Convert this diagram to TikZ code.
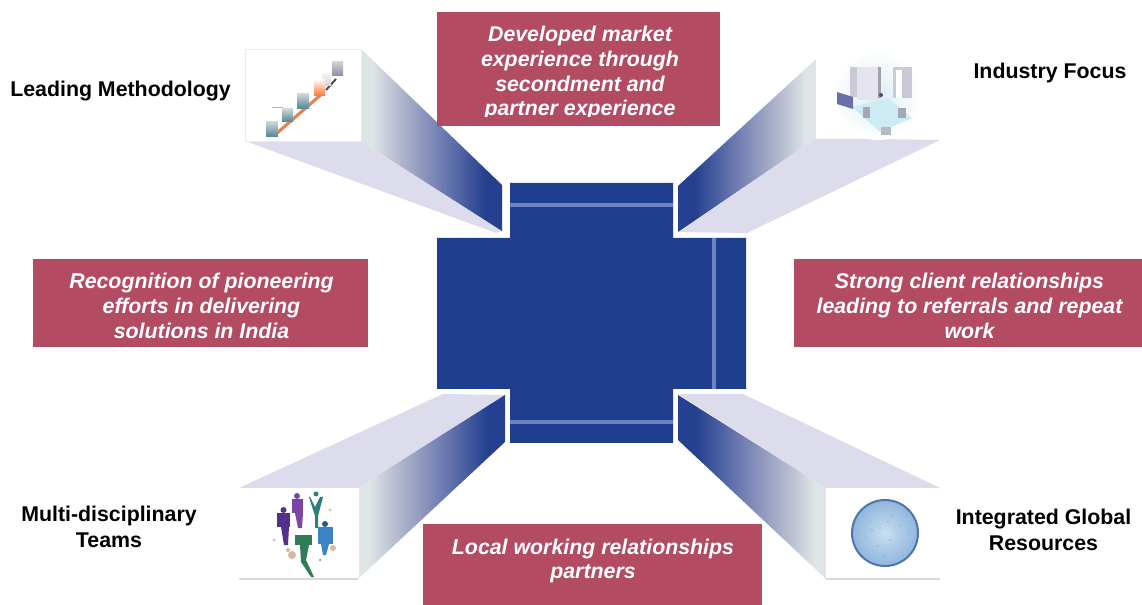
\documentclass[tikz,border=0pt]{standalone}
\usepackage{fontspec}
\setmainfont{Liberation Sans}
\definecolor{crossblue}{HTML}{1F3E8E}
\definecolor{crossline}{HTML}{6E84C2}
\definecolor{wine}{HTML}{B34B62}
\definecolor{beamtop}{HTML}{DCDCEC}
\definecolor{stopA}{HTML}{DDE5E7}
\definecolor{stopB}{HTML}{B9BFD0}
\definecolor{stopC}{HTML}{8D96BD}
\definecolor{stopD}{HTML}{5A6CA8}
\definecolor{stopE}{HTML}{24408F}
\definecolor{stepteal}{HTML}{4F8590}
\definecolor{stepgrey}{HTML}{C9D6DA}
\definecolor{stepline}{HTML}{D9713A}
\definecolor{mistA}{HTML}{DCEDF7}
\definecolor{bldgA}{HTML}{C9C9D8}
\definecolor{bldgB}{HTML}{E6E4EE}
\definecolor{bldgC}{HTML}{6A6FA8}
\definecolor{floorcy}{HTML}{CDEBF5}
\definecolor{smallgr}{HTML}{A5A8B0}
\definecolor{ppA}{HTML}{52308E}
\definecolor{ppB}{HTML}{7B45A5}
\definecolor{ppC}{HTML}{2A8078}
\definecolor{ppD}{HTML}{3D82C4}
\definecolor{ppE}{HTML}{2E7D55}
\definecolor{ppF}{HTML}{D9B8A0}
\definecolor{globeIn}{HTML}{C8DFF1}
\definecolor{globeOut}{HTML}{8FB6DD}
\definecolor{globeEdge}{HTML}{4F74AC}
\pgfdeclarehorizontalshading{beamshade}{100bp}{
  color(0bp)=(stopA); color(29bp)=(stopA); color(37bp)=(stopB);
  color(47bp)=(stopC); color(58bp)=(stopD); color(69bp)=(stopE); color(100bp)=(stopE)}
\tikzset{
  x=0.75pt,y=-0.75pt,
  redbox/.style={fill=wine,draw=none},
  redtext/.style={text=white,font=\fontsize{16}{18.5}\selectfont\bfseries\itshape,align=center,inner sep=0pt},
  labeltext/.style={text=black,font=\fontsize{16}{19}\selectfont\bfseries,align=center,inner sep=0pt},
  topface/.style={fill=beamtop,draw=none},
  sideR/.style={shading=beamshade,shading angle=0,draw=none},
  sideL/.style={shading=beamshade,shading angle=180,draw=none},
  whitepanel/.style={fill=white,draw=#1,line width=0.5pt},
  crossface/.style={fill=crossblue,draw=none},
  crossrule/.style={draw=crossline,line width=2.4pt},
  stepblock/.style={top color=stepgrey,bottom color=stepteal,draw=none},
}
\begin{document}
\begin{tikzpicture}
\useasboundingbox (0,0) rectangle (1142,605);
\fill[white] (0,0) rectangle (1142,605);

% ---- beams
\fill[topface] (245,141) -- (361,141) -- (502,231) -- (496,233) -- cycle;
\shade[sideR] (361,49) -- (502,185) -- (502,231) -- (361,141) -- cycle;
\fill[topface] (816,138) -- (940,140) -- (747,233) -- (679,232) -- cycle;
\shade[sideL] (816,59) -- (678,186) -- (678,232) -- (816,138) -- cycle;
\fill[topface] (239,488) -- (358,488) -- (505,395) -- (443,394) -- cycle;
\shade[sideR] (358,488) -- (505,395) -- (505,442) -- (358,579) -- cycle;
\fill[topface] (678,394) -- (743,394) -- (940,488) -- (826,488) -- cycle;
\shade[sideL] (678,395) -- (826,488) -- (826,579) -- (678,440) -- cycle;

% ---- white end panels
\filldraw[whitepanel=beamtop!60] (245,49) rectangle (361,141);
\filldraw[whitepanel=white] (816,49) rectangle (938,138);
\filldraw[whitepanel=white] (239,488) rectangle (358,579);
\filldraw[whitepanel=white] (826,488) rectangle (940,579);
\draw[gray!30,line width=0.8pt] (239,579) -- (358,579);
\draw[gray!30,line width=0.8pt] (826,579) -- (940,579);

% ---- cross
\fill[crossface] (510,183) -- (673,183) -- (673,238) -- (746,238) -- (746,389) -- (673,389)
  -- (673,443) -- (510,443) -- (510,389) -- (437,389) -- (437,238) -- (510,238) -- cycle;
\draw[crossrule] (510,205) -- (673,205);
\draw[crossrule] (510,422) -- (673,422);
\draw[crossrule] (714,238) -- (714,389);

% ---- staircase icon
\draw[stepline,line width=2.4pt,opacity=.85] (276,134) -- (324,92);
\draw[black!70,line width=1.5pt] (326,90) -- (336,79);
\draw[gray!60,line width=.7pt] (272,107) -- (283,107);
\shade[stepblock] (266,122) rectangle (278,137);
\shade[stepblock] (282,109) rectangle (293,122);
\shade[stepblock] (297,94) rectangle (309,109);
\shade[top color=gray!10,bottom color=gray!35] (322,74) rectangle (331,86);
\shade[top color=orange!5,bottom color=orange!65!red!80] (314,80) rectangle (325,96);
\shade[top color=gray!35,bottom color=gray!85!blue!80] (332,62) rectangle (343,76);

% ---- industry icon
\shade[inner color=mistA,outer color=white] (878,95) circle (45);
\fill[floorcy] (852,107) -- (888,98) -- (912,118) -- (880,132) -- cycle;
\fill[bldgA] (850,67) rectangle (857,97);
\fill[bldgB] (857,67) rectangle (880,100);
\fill[bldgA!80!black] (878,67) rectangle (881,98);
\fill[bldgA] (893,67) rectangle (912,98);
\fill[white] (896,70) rectangle (902,98);
\fill[bldgC] (837,92) -- (853,97) -- (853,109) -- (837,104) -- cycle;
\fill[bldgC!70!black] (881,95) circle (2);
\fill[smallgr] (863,107) rectangle (870,118);
\fill[smallgr] (898,108) rectangle (906,118);
\fill[smallgr!80] (881,127) rectangle (891,135);

% ---- people icon
\fill[ppA] (277,513) rectangle (290,527);
\fill[ppA] (281,527) -- (289,527) -- (288,545) -- (284,545) -- cycle;
\fill[ppA] (283.5,510) circle (3);
\fill[ppB] (292,499) rectangle (303,513);
\fill[ppB] (295,513) -- (303,513) -- (302,528) -- (298,528) -- cycle;
\fill[ppB] (297,496) circle (3);
\fill[ppC] (310,497) -- (315,507) -- (320,497) -- (323,497) -- (318,516) -- (318,528) -- (315,528) -- (315,516) -- (309,497) -- cycle;
\fill[ppC] (316,494) circle (2.5);
\fill[ppD] (318,527) rectangle (333,544);
\fill[ppD] (321,544) -- (329,544) -- (326,555) -- (323,555) -- cycle;
\fill[ppD!70!black] (325,524) circle (3);
\fill[ppE] (295,535) rectangle (312,545);
\fill[ppE] (300,545) -- (309,545) -- (306,560) -- (314,577) -- (311,577) -- (301,562) -- cycle;
\fill[ppF] (292,555) circle (4);
\fill[ppF] (288,550) circle (2);
\fill[ppF] (333,548) circle (3);
\fill[ppF] (330,510) circle (1.5);
\fill[ppF] (274,540) circle (1.5);
\fill[gray!70] (320,560) circle (1.5);

% ---- globe icon
\shade[inner color=globeIn,outer color=globeOut,draw=globeEdge,line width=1.5pt] (885,533) circle (33);
\foreach \gx/\gy in {870/520,880/528,892/516,900/526,866/538,878/546,890/540,904/542,884/556,872/530,896/552,888/522,860/528,908/534}{
  \fill[globeEdge!60] (\gx,\gy) circle (0.8);
}

% ---- wine boxes
\fill[redbox] (437,12) rectangle (720,126);
\node[redtext,anchor=north] (t1) at (580,26) {Developed market\\experience through\\secondment and\\partner experience};
\fill[redbox] (437,117) rectangle (720,126);
\fill[redbox] (33,259) rectangle (368,347);
\node[redtext] (t2) at (201.5,306) {Recognition of pioneering\\efforts in delivering\\solutions in India};
\fill[redbox] (794,259) rectangle (1142,347);
\node[redtext] (t3) at (969.5,306) {Strong client relationships\\leading to referrals and repeat\\work};
\fill[redbox] (423,524) rectangle (762,605);
\node[redtext] (t4) at (593,561) {Local working relationships\\partners};

% ---- labels
\node[labeltext] (l1) at (120.5,91) {Leading Methodology};
\node[labeltext] (l2) at (1050,73) {Industry Focus};
\node[labeltext] (l3) at (109,527) {Multi-disciplinary\\Teams};
\node[labeltext] (l4) at (1043.5,530) {Integrated Global\\Resources};
\end{tikzpicture}
\end{document}
